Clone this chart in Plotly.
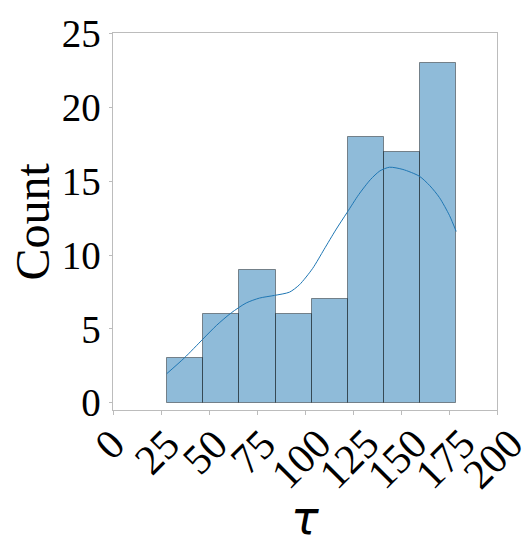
import plotly.graph_objects as go

# Histogram of tau: bin edges and counts
bin_edges = [28.2, 47.0, 65.8, 84.7, 103.5, 122.3, 141.1, 159.9, 178.75]
counts = [3, 6, 9, 6, 7, 18, 17, 23]

# Smoothed density curve (scaled to counts)
kde_x = [28.0, 37.2, 46.8, 54.0, 61.6, 69.4, 76.3, 84.1, 91.9, 97.1, 104.0,
         110.0, 116.0, 122.0, 128.0, 134.0, 139.0, 144.0, 151.0, 159.6,
         165.0, 170.0, 175.3, 178.75]
kde_y = [1.97, 3.04, 4.31, 5.25, 6.09, 6.76, 7.09, 7.27, 7.49, 7.99, 9.1,
         10.4, 11.7, 12.9, 14.1, 15.1, 15.7, 15.95, 15.8, 15.34,
         14.7, 13.9, 12.67, 11.6]

x_ticks = [0, 25, 50, 75, 100, 125, 150, 175, 200]
x_tick_labels = [str(v) for v in x_ticks]
y_ticks = [0, 5, 10, 15, 20, 25]

centers = [(a + b) / 2 for a, b in zip(bin_edges[:-1], bin_edges[1:])]
widths = [b - a for a, b in zip(bin_edges[:-1], bin_edges[1:])]

SERIF = "Liberation Serif, Times New Roman, serif"
FRAME = "#bcbcbc"

fig = go.Figure()
fig.add_trace(go.Bar(
    x=centers, y=counts, width=widths,
    marker=dict(color="rgba(31,119,180,0.5)",
                line=dict(color="rgba(0,0,0,0.42)", width=1)),
    showlegend=False,
))
fig.add_trace(go.Scatter(
    x=kde_x, y=kde_y, mode="lines",
    line=dict(color="#1f77b4", width=1, shape="spline", smoothing=0.7),
    showlegend=False,
))

# rotated tick labels centred under each tick
for v, lab in zip(x_ticks, x_tick_labels):
    fig.add_annotation(
        x=v, xref="x", y=0, yref="paper", text=lab, showarrow=False,
        textangle=-45, xanchor="center", yanchor="top",
        xshift=-4, yshift=-8,
        font=dict(family=SERIF, size=42, color="black"),
    )

fig.add_annotation(
    x=0.5, xref="paper", y=0, yref="paper", text="<i>τ</i>", showarrow=False,
    xanchor="center", yanchor="middle", yshift=-108,
    font=dict(family="DejaVu Sans", size=46, color="black"),
)
fig.add_annotation(
    x=0, xref="paper", y=0.5, yref="paper", text="Count", showarrow=False,
    textangle=-90, xanchor="center", yanchor="middle", xshift=-81,
    font=dict(family=SERIF, size=48, color="black"),
)

fig.update_layout(
    width=523, height=535,
    margin=dict(l=113, r=26, t=28, b=125),
    paper_bgcolor="white", plot_bgcolor="white",
    bargap=0,
)
fig.update_xaxes(
    range=[0, 200], tickvals=x_ticks, showticklabels=False,
    ticks="outside", ticklen=3.5, tickcolor=FRAME, tickwidth=1,
    showline=True, linecolor=FRAME, linewidth=1, mirror=True,
    showgrid=False, zeroline=False,
)
fig.update_yaxes(
    range=[-0.49, 25.04], tickvals=y_ticks,
    ticks="outside", ticklen=3.5, tickcolor=FRAME, tickwidth=1,
    tickfont=dict(family=SERIF, size=39, color="black"),
    showline=True, linecolor=FRAME, linewidth=1, mirror=True,
    showgrid=False, zeroline=False,
)

fig.write_html("out.html")
